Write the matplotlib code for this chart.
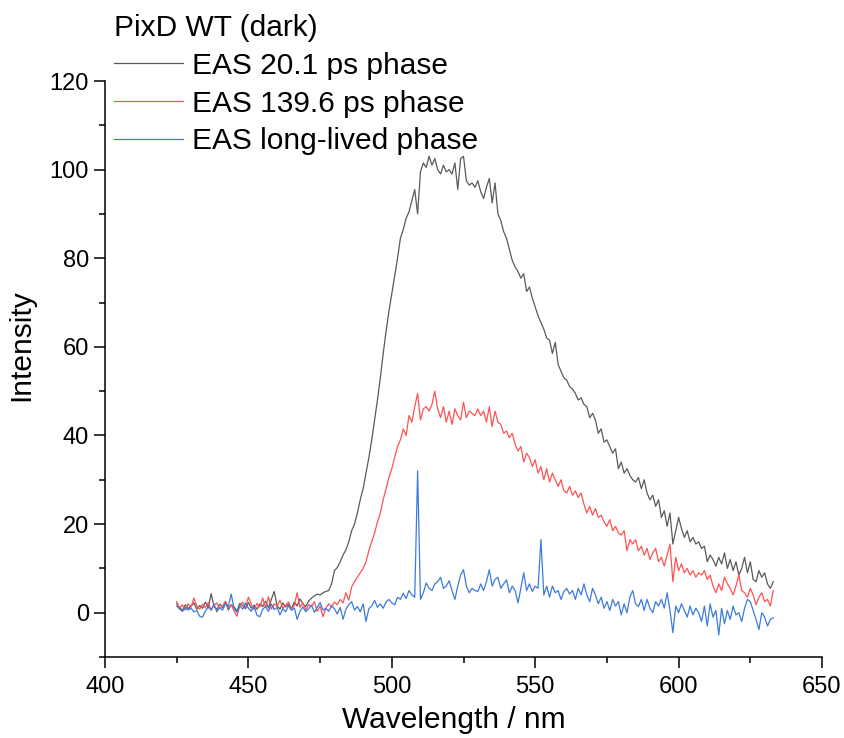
import numpy as np
import matplotlib
matplotlib.use("Agg")
import matplotlib.pyplot as plt

plt.rcParams['font.family'] = ['Liberation Sans', 'DejaVu Sans']

wl_start, wl_end = 425, 633
wavelength = np.arange(wl_start, wl_end + 1)

eas_20ps = [
    2.0, 1.2, 0.5, 1.8, 0.9, 1.5, 2.2, 0.8, 1.6, 1.0,
    2.4, 1.1, 4.3, 1.5, 0.7, 1.9, 1.2, 2.5, 0.6, 1.8,
    1.3, 0.4, 2.1, 1.6, 0.9, 2.3, 1.0, 1.7, 0.8, 2.0,
    1.4, 2.6, 1.1, 3.0, 4.8, 1.6, 0.8, 2.2, 1.3, 1.9,
    0.9, 2.4, 1.5, 3.1, 2.0, 1.4, 2.6, 3.3, 3.8, 4.2,
    4.0, 4.5, 4.8, 5.0, 6.5, 9.5, 10.2, 11.5, 13.0, 14.2,
    16.0, 18.5, 20.0, 22.5, 25.5, 28.0, 31.5, 35.0, 39.0, 43.5,
    48.0, 53.0, 58.5, 63.5, 68.0, 72.0, 76.0, 80.0, 84.5, 86.5,
    89.0, 90.5, 93.0, 95.5, 90.0, 99.5, 101.5, 100.5, 103.0, 101.0,
    102.5, 100.0, 99.0, 101.0, 99.5, 100.0, 99.0, 101.5, 95.5, 102.5,
    103.0, 97.5, 96.5, 97.0, 96.0, 97.5, 95.0, 93.5, 96.0, 98.0,
    92.5, 97.0, 90.0, 88.5, 86.0, 84.5, 82.0, 79.5, 78.0, 77.0,
    75.5, 76.5, 72.5, 73.5, 71.0, 69.0, 67.0, 65.5, 64.0, 62.0,
    61.5, 58.5, 61.0, 56.0, 54.5, 53.0, 52.5, 51.0, 50.5, 49.5,
    48.0, 48.5, 47.0, 46.5, 44.0, 45.0, 43.5, 40.5, 41.5, 38.5,
    39.0, 37.5, 36.0, 37.0, 32.5, 34.0, 31.5, 32.5, 31.0, 30.0,
    29.5, 30.5, 28.0, 30.0, 27.0, 25.5, 26.5, 24.0, 25.5, 21.5,
    23.0, 19.5, 22.5, 15.5, 18.5, 21.5, 19.0, 17.0, 18.5, 16.0,
    17.0, 15.5, 16.0, 14.5, 15.0, 11.5, 13.0, 12.0, 10.5, 12.5,
    11.0, 13.5, 10.0, 12.0, 9.5, 11.5, 8.5, 10.0, 12.5, 9.0,
    11.5, 7.5, 7.0, 9.5, 8.0, 9.0, 6.5, 5.5, 7.0,
]

eas_140ps = [
    2.5, 1.0, 1.8, 0.6, 2.0, 1.2, 3.3, 1.5, 0.8, 1.9,
    1.1, 2.3, 0.5, 1.7, 2.2, 0.9, 1.5, 2.6, 1.0, 1.8,
    0.4, -0.8, 1.6, 2.4, 1.2, 3.5, 1.9, 0.7, 2.1, 1.3,
    3.3, 1.1, 3.6, 0.8, 2.0, 1.5, 2.8, 1.0, 1.7, 2.4,
    0.9, 1.6, 4.5, 1.2, 2.2, 0.6, 1.8, 1.4, 2.5, 0.3,
    1.5, -0.9, 1.0, 2.0, 1.3, 2.4, 1.8, 3.0, 2.2, 4.5,
    2.8, 5.8, 7.0, 8.0, 9.0, 10.0, 11.5, 14.0, 16.0, 18.0,
    20.5, 22.5, 25.5, 28.0, 30.5, 32.5, 35.0, 37.5, 39.0, 41.5,
    40.0, 44.5, 43.0, 46.5, 49.5, 43.5, 46.0, 46.5, 45.5, 47.0,
    50.0, 46.0, 44.0, 46.5, 43.0, 45.5, 42.5, 46.0, 44.5, 43.5,
    47.5, 44.0, 45.5, 45.0, 44.5, 46.0, 44.5, 45.5, 43.0, 46.5,
    42.0, 45.5, 43.0, 42.5, 40.5, 41.0, 39.5, 40.5, 38.0, 36.5,
    37.5, 34.0, 36.0, 35.0, 33.0, 34.5, 31.5, 33.0, 30.0, 32.5,
    29.5, 31.5, 30.0, 28.5, 30.0, 27.5, 27.0, 28.5, 26.5, 27.5,
    26.0, 27.0, 24.5, 22.5, 24.0, 22.0, 23.5, 21.5, 22.0, 20.5,
    19.5, 21.0, 18.5, 19.5, 18.0, 17.5, 18.5, 14.0, 16.5, 15.5,
    16.5, 14.0, 15.0, 13.0, 14.5, 12.0, 13.5, 14.5, 11.5, 12.5,
    10.5, 13.0, 15.5, 7.0, 12.5, 9.5, 11.0, 9.0, 10.0, 8.5,
    9.5, 8.0, 9.0, 8.5, 9.5, 7.5, 8.5, 6.0, 4.5, 6.5,
    5.0, 8.0, 6.5, 5.5, 4.0, 6.0, 8.5, 5.0, 4.5, 3.5,
    5.5, 4.0, 1.8, 3.5, 4.5, 2.5, 3.0, 1.5, 5.0,
]

eas_long = [
    1.5, 0.8, 0.3, 1.2, 0.6, 1.0, 0.2, 0.5, -0.8, -1.0,
    0.4, 1.3, 0.7, 1.9, 0.2, 1.1, 0.6, 2.0, 1.4, 4.2,
    0.9, 0.1, 1.6, 0.8, 2.2, 1.0, 0.3, 1.5, -0.6, -0.9,
    0.8, 1.4, 0.3, 2.0, 0.7, 1.2, -0.5, 0.9, 0.2, 1.6,
    0.5, 1.1, -1.5, 0.4, 1.3, 0.2, 0.9, 1.7, 0.1, 1.2,
    2.3, 0.6, 1.0, 0.3, 1.5, 0.9, -0.3, 1.2, -1.5, 0.8,
    1.8, 2.5, 0.6, 1.4, 0.2, 2.0, -2.0, 0.9, 1.5, 2.8,
    1.2, 2.0, 1.0, 2.4, 3.0, 2.2, 1.8, 3.5, 3.0, 4.4,
    3.2, 5.0, 4.0, 3.5, 32.0, 3.0, 4.5, 6.7, 5.5, 5.0,
    6.5, 7.0, 8.0, 5.5, 6.0, 7.2, 5.0, 3.0, 6.0, 8.5,
    9.7, 6.0, 4.5, 5.5, 5.0, 4.8, 6.5, 5.0, 7.0, 9.7,
    6.0, 7.5, 8.0, 5.5, 6.5, 7.4, 4.5, 6.0, 5.0, 2.2,
    5.5, 9.0, 5.0, 6.5, 4.8, 6.0, 5.5, 16.5, 4.0, 6.0,
    3.5, 6.0, 4.5, 5.0, 3.0, 4.8, 5.5, 4.2, 5.0, 3.0,
    5.5, 4.0, 6.5, 4.0, 2.5, 5.5, 4.0, 2.0, 3.5, 1.0,
    2.5, 0.5, 3.0, 1.5, 2.5, -0.5, 2.0, 0.0, 3.5, 5.0,
    2.0, 1.4, 3.0, 0.5, 3.0, 1.0, 0.0, 2.5, 1.5, 3.0,
    1.0, 4.5, 0.5, -4.5, 1.5, 0.0, 2.0, 0.5, -1.0, 1.5,
    -0.5, 1.0, 0.0, -2.0, 1.5, -3.0, 2.0, -1.0, 0.5, -5.0,
    1.0, -2.5, 0.5, -1.5, 1.5, -0.5, 0.0, -2.0, 1.0, 3.0,
    2.5, 0.5, -1.5, -3.8, 0.0, -1.0, -3.0, -1.5, -1.2,
]

series_labels = ["EAS 20.1 ps phase", "EAS 139.6 ps phase", "EAS long-lived phase"]
legend_title = "PixD WT (dark)"
x_ticks = [400, 450, 500, 550, 600, 650]
y_ticks = [0, 20, 40, 60, 80, 100, 120]

colors = ["#5a5a5a", "#ff5252", "#3d7bdb"]

fig = plt.figure(figsize=(8.45, 7.38), dpi=100)
ax = fig.add_axes([105/845, 1 - 657/738, (822 - 105)/845, (657 - 81)/738])

for ys, lab, c in zip([eas_20ps, eas_140ps, eas_long], series_labels, colors):
    ax.plot(wavelength, ys, color=c, lw=0.9, label=lab)

ax.set_xlim(400, 650)
ax.set_ylim(-10, 120)
ax.set_xticks(x_ticks)
ax.set_yticks(y_ticks)
ax.set_xticks([425, 475, 525, 575, 625], minor=True)
ax.set_yticks([-10, 10, 30, 50, 70, 90, 110], minor=True)
ax.spines['top'].set_visible(False)
ax.spines['right'].set_visible(False)
for s in ['left', 'bottom']:
    ax.spines[s].set_linewidth(1.1)
ax.tick_params(which='major', direction='out', length=8, width=1.1, labelsize=17)
ax.tick_params(axis='x', which='major', pad=5.5)
ax.tick_params(which='minor', direction='out', length=4, width=1.1)
ax.set_xlabel("Wavelength / nm", fontsize=21.5)
ax.xaxis.set_label_coords(0.487, -0.085)
ax.set_ylabel("Intensity", fontsize=21.5)
ax.yaxis.set_label_coords(-0.097, 0.542)

leg = fig.legend(loc='upper left', bbox_to_anchor=(114/845, 1 - 14/738),
                 frameon=False, title=legend_title, fontsize=21.5, title_fontsize=21.5,
                 handlelength=2.3, handletextpad=0.3, labelspacing=0.33,
                 borderpad=0, borderaxespad=0, alignment='left')
leg._legend_box.sep = 7

fig.savefig("out.png", dpi=100)
